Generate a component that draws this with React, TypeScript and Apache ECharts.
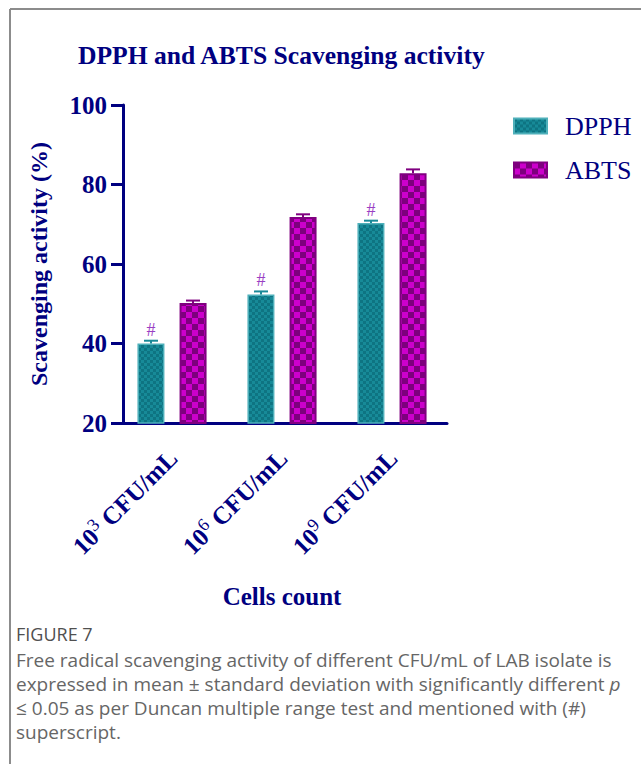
import React, { useEffect, useRef } from "react";
import * as echarts from "echarts";

// Cell densities (x categories)
const categories = ["10^3 CFU/mL", "10^6 CFU/mL", "10^9 CFU/mL"];
// DPPH scavenging activity (%), mean and standard deviation
const dpphMean = [40.0, 52.3, 70.3];
const dpphSd = [0.7, 0.8, 0.6];
// ABTS scavenging activity (%), mean and standard deviation
const abtsMean = [50.2, 71.8, 82.8];
const abtsSd = [0.6, 0.7, 1.0];
// Significance marks above the DPPH bars
const dpphMarks = ["#", "#", "#"];
// Value axis ticks
const yMin = 20;
const yMax = 100;
const yStep = 20;

const SERIF = '"Liberation Serif", "Times New Roman", serif';
const SANS = '"Open Sans", "Noto Sans", sans-serif';
const NAVY = "#000080";

function checker(size: number, a: string, b: string): HTMLCanvasElement {
  const c = document.createElement("canvas");
  c.width = size * 2;
  c.height = size * 2;
  const ctx = c.getContext("2d")!;
  ctx.fillStyle = a;
  ctx.fillRect(0, 0, size * 2, size * 2);
  ctx.fillStyle = b;
  ctx.fillRect(0, 0, size, size);
  ctx.fillRect(size, size, size, size);
  return c;
}

function textWidth(text: string, font: string): number {
  const c = document.createElement("canvas");
  const ctx = c.getContext("2d")!;
  ctx.font = font;
  return ctx.measureText(text).width;
}

export default function App() {
  const ref = useRef<HTMLDivElement>(null);

  useEffect(() => {
    if (!ref.current) return;
    const chart = echarts.init(ref.current, null, { renderer: "svg" });

    const dpphFill = { image: checker(3, "#178a98", "#0e7482"), repeat: "repeat" };
    const abtsFill = { image: checker(6, "#cc00cc", "#7d007d"), repeat: "repeat" };

    const barHalfOffset = 21;

    const errorSeries = (
      name: string,
      mean: number[],
      sd: number[],
      offset: number,
      color: string,
      marks: string[] | null
    ) => ({
      type: "custom",
      name,
      z: 5,
      silent: true,
      data: mean.map((m, i) => [i, m, sd[i]]),
      renderItem: (_params: any, api: any) => {
        const i = api.value(0);
        const m = api.value(1);
        const s = api.value(2);
        const top = api.coord([i, m + s]);
        const base = api.coord([i, m]);
        const x = top[0] + offset;
        const children: any[] = [
          {
            type: "line",
            shape: { x1: x, y1: base[1], x2: x, y2: top[1] },
            style: { stroke: color, lineWidth: 2 },
          },
          {
            type: "line",
            shape: { x1: x - 7, y1: top[1], x2: x + 7, y2: top[1] },
            style: { stroke: color, lineWidth: 2 },
          },
        ];
        if (marks) {
          children.push({
            type: "text",
            style: {
              text: marks[i],
              x,
              y: top[1] - 11,
              align: "center",
              verticalAlign: "middle",
              font: `18px ${SERIF}`,
              fill: "#9a3fc4",
            },
          });
        }
        return { type: "group", children };
      },
    });

    const captionFont = `19px ${SANS}`;
    const captionColor = "#666666";
    const captionLine = (text: string, x: number, y: number, extra: any = {}) => ({
      type: "text",
      silent: true,
      style: {
        text,
        x,
        y,
        verticalAlign: "middle",
        font: captionFont,
        lineHeight: 21,
        fill: captionColor,
        ...extra,
      },
    });

    const line2 = "expressed in mean ± standard deviation with significantly different ";
    const line2Width = textWidth(line2, captionFont);

    chart.setOption({
      animation: false,
      backgroundColor: "#ffffff",
      title: {
        text: "DPPH and ABTS Scavenging activity",
        left: 78,
        top: 42,
        padding: 0,
        textStyle: {
          fontFamily: SERIF,
          fontWeight: "bold",
          fontSize: 25.6,
          color: NAVY,
        },
      },
      legend: {
        orient: "vertical",
        left: 513,
        top: 113,
        padding: 0,
        itemWidth: 33,
        itemHeight: 15,
        itemGap: 18,
        icon: "rect",
        selectedMode: false,
        data: ["DPPH", "ABTS"],
        textStyle: {
          fontFamily: SERIF,
          fontSize: 26,
          lineHeight: 26,
          color: NAVY,
          padding: [0, 0, 0, 13],
        },
      },
      grid: { left: 117, top: 105, width: 330, height: 318, containLabel: false },
      xAxis: {
        type: "category",
        data: categories,
        name: "Cells count",
        nameLocation: "middle",
        nameGap: 161,
        nameTextStyle: {
          fontFamily: SERIF,
          fontWeight: "bold",
          fontSize: 25,
          color: NAVY,
        },
        axisLine: { lineStyle: { color: NAVY, width: 3 } },
        axisTick: {
          alignWithLabel: true,
          length: 12,
          lineStyle: { color: NAVY, width: 3 },
        },
        axisLabel: {
          rotate: 45,
          margin: 30,
          interval: 0,
          formatter: (v: string) => {
            const m = v.match(/^(\d+)\^(\d+)\s(.*)$/);
            if (!m) return v;
            return `{b|${m[1]}}{sup|${m[2]}}{b| ${m[3]}}`;
          },
          rich: {
            b: {
              fontFamily: SERIF,
              fontWeight: "bold",
              fontSize: 25,
              color: NAVY,
              lineHeight: 28,
              verticalAlign: "bottom",
            },
            sup: {
              fontFamily: SERIF,
              fontWeight: "normal",
              fontSize: 18,
              color: NAVY,
              lineHeight: 28,
              verticalAlign: "top",
              padding: [0, 0, 10, 0],
            },
          },
        },
      },
      yAxis: {
        type: "value",
        min: yMin,
        max: yMax,
        interval: yStep,
        offset: -6,
        name: "Scavenging activity (%)",
        nameLocation: "middle",
        nameGap: 72,
        nameRotate: 90,
        nameTextStyle: {
          fontFamily: SERIF,
          fontWeight: "bold",
          fontSize: 24,
          color: NAVY,
        },
        splitLine: { show: false },
        axisLine: { show: true, lineStyle: { color: NAVY, width: 3 } },
        axisTick: { show: true, length: 12, lineStyle: { color: NAVY, width: 3 } },
        axisLabel: {
          margin: 16,
          fontFamily: SERIF,
          fontWeight: "bold",
          fontSize: 25,
          color: NAVY,
        },
      },
      series: [
        {
          type: "bar",
          name: "DPPH",
          data: dpphMean,
          barWidth: 27,
          barGap: "56%",
          itemStyle: { color: dpphFill, borderColor: "#4fb0ba", borderWidth: 1.5 },
        },
        {
          type: "bar",
          name: "ABTS",
          data: abtsMean,
          barWidth: 27,
          barGap: "56%",
          itemStyle: { color: abtsFill, borderColor: "#800080", borderWidth: 2 },
        },
        errorSeries("DPPH SD", dpphMean, dpphSd, -barHalfOffset, "#1a8a98", dpphMarks),
        errorSeries("ABTS SD", abtsMean, abtsSd, barHalfOffset, "#800080", null),
      ],
      graphic: [
        {
          type: "line",
          shape: { x1: 10, y1: 9, x2: 641, y2: 9 },
          style: { stroke: "#8c8c8c", lineWidth: 2 },
          silent: true,
        },
        {
          type: "line",
          shape: { x1: 10, y1: 9, x2: 10, y2: 764 },
          style: { stroke: "#8c8c8c", lineWidth: 2 },
          silent: true,
        },
        captionLine("FIGURE 7", 16, 634, { font: `18px ${SANS}`, fill: "#505050" }),
        captionLine(
          "Free radical scavenging activity of different CFU/mL of LAB isolate is",
          16,
          659.5
        ),
        captionLine(line2, 16, 683.5),
        captionLine("p", 16 + line2Width, 683.5, { font: `italic 19px ${SANS}` }),
        captionLine("≤ 0.05 as per Duncan multiple range test and mentioned with (#)", 16, 707.5),
        captionLine("superscript.", 16, 731.5),
      ],
    });

    return () => chart.dispose();
  }, []);

  return (
    <div
      ref={ref}
      style={{ position: "absolute", left: 0, top: 0, width: 641, height: 764 }}
    />
  );
}
